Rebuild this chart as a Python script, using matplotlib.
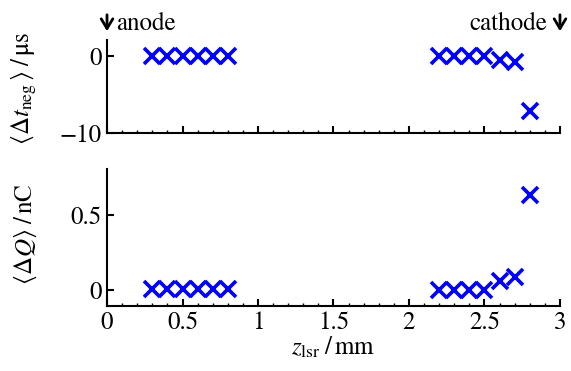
import matplotlib
matplotlib.use("Agg")
import matplotlib.pyplot as plt
from matplotlib.ticker import MultipleLocator
import matplotlib.transforms as mtrans

plt.rcParams['font.family'] = ['STIXGeneral', 'DejaVu Sans']
plt.rcParams['mathtext.fontset'] = 'stix'
plt.rcParams['font.size'] = 18

z_lsr = [0.3, 0.4, 0.5, 0.6, 0.7, 0.8, 2.2, 2.3, 2.4, 2.5, 2.6, 2.7, 2.8]
dt_neg = [0.0, 0.0, 0.0, 0.0, 0.0, 0.0, 0.0, 0.0, 0.0, 0.0, -0.5, -0.8, -7.2]
dQ = [0.01, 0.01, 0.01, 0.01, 0.01, 0.01, 0.0, 0.0, 0.0, 0.0, 0.06, 0.09, 0.63]

xticks = [0, 0.5, 1, 1.5, 2, 2.5, 3]
xticklabels = ['0', '0.5', '1', '1.5', '2', '2.5', '3']

fig = plt.figure(figsize=(5.71, 3.71), dpi=100)
ax1 = fig.add_axes([0.1874, 0.6415, 0.7933, 0.2507])
ax2 = fig.add_axes([0.1874, 0.1763, 0.7933, 0.3682])

blue = '#0000ff'
fs = 18
for ax in (ax1, ax2):
    for s in ('top', 'right'):
        ax.spines[s].set_visible(False)
    for s in ('left', 'bottom'):
        ax.spines[s].set_linewidth(1.5)
    ax.set_xlim(0, 3)
    ax.set_xticks(xticks)
    ax.xaxis.set_minor_locator(MultipleLocator(0.1))
    ax.tick_params(which='major', direction='in', length=5, width=1.5, labelsize=fs, pad=4)
    ax.tick_params(which='minor', direction='in', length=2, width=1.0)
    ax.tick_params(axis='y', which='minor', left=False)

ax1.plot(z_lsr, dt_neg, linestyle='none', marker='x', color=blue, markersize=11.5, markeredgewidth=2.6, clip_on=False)
ax1.set_ylim(-10, 2.1)
ax1.set_yticks([0, -10])
ax1.set_yticklabels(['0', '\u221210'])
ax1.set_xticklabels([])
ax1.set_ylabel(r'$\langle\Delta t_{\rm neg}\,\rangle\;/\,\mathrm{\mu s}$', fontsize=fs)
ax1.yaxis.set_label_coords(-0.15, 0.48)

ax2.plot(z_lsr, dQ, linestyle='none', marker='x', color=blue, markersize=11.5, markeredgewidth=2.6, clip_on=False)
ax2.set_ylim(-0.1, 0.8)
ax2.set_yticks([0, 0.5])
ax2.set_yticklabels(['0', '0.5'])
ax2.set_xticklabels(xticklabels)
ax2.set_ylabel(r'$\langle\Delta Q\rangle\;/\,\mathrm{nC}$', fontsize=fs)
ax2.yaxis.set_label_coords(-0.15, 0.52)
ax2.set_xlabel(r'$z_{\rm lsr}\;/\,\mathrm{mm}$', fontsize=fs)
ax2.xaxis.set_label_coords(0.5, -0.22)

trans = mtrans.blended_transform_factory(ax1.transData, fig.transFigure)
arrow_kw = dict(arrowstyle='->,head_length=0.5,head_width=0.3', lw=2.0, color='black', mutation_scale=14)
ax1.annotate('', xy=(0, 1 - 34 / 371), xytext=(0, 1 - 12 / 371), xycoords=trans, textcoords=trans,
             arrowprops=arrow_kw, annotation_clip=False)
ax1.annotate('', xy=(3, 1 - 34 / 371), xytext=(3, 1 - 12 / 371), xycoords=trans, textcoords=trans,
             arrowprops=arrow_kw, annotation_clip=False)
fig.text(116 / 571, 1 - 30 / 371, 'anode', ha='left', va='baseline', fontsize=fs)
fig.text(547 / 571, 1 - 30 / 371, 'cathode', ha='right', va='baseline', fontsize=fs)

fig.savefig('out.png', dpi=100)
